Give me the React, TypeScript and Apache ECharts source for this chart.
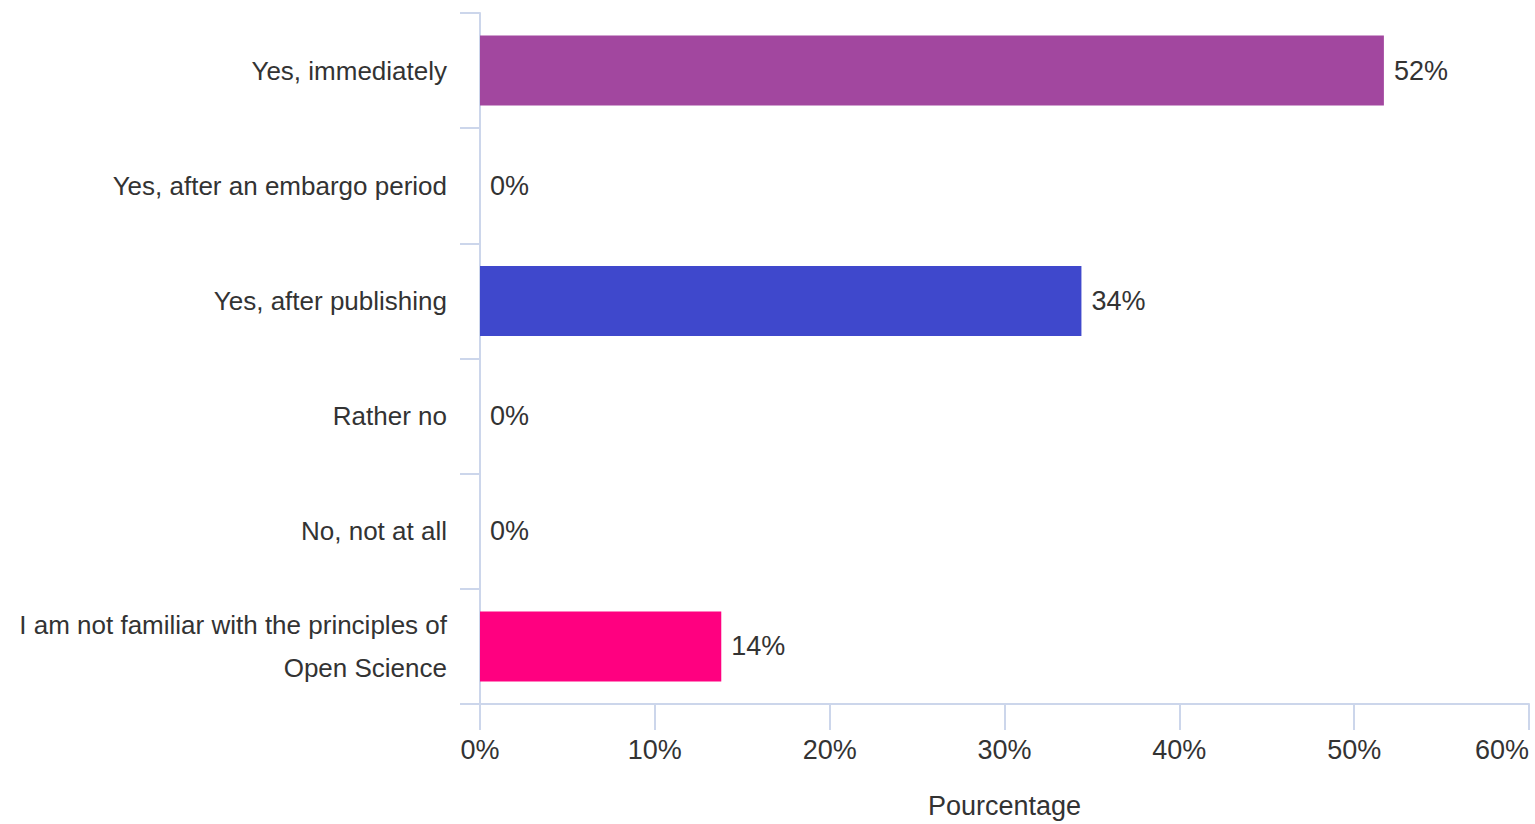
import React, { useEffect, useRef } from "react";
import * as echarts from "echarts";

const categories = [
  "Yes, immediately",
  "Yes, after an embargo period",
  "Yes, after publishing",
  "Rather no",
  "No, not at all",
  "I am not familiar with the principles of\nOpen Science",
];
const values = [51.7, 0, 34.4, 0, 0, 13.8];
const barColors = ["#A2479F", "#A2479F", "#3F48CC", "#A2479F", "#A2479F", "#FF0080"];
const xTicks = [0, 10, 20, 30, 40, 50, 60];

const FONT = "'Liberation Sans Narrow', 'Arial Narrow', 'Liberation Sans', Arial, sans-serif";

export default function App() {
  const ref = useRef<HTMLDivElement>(null);
  useEffect(() => {
    if (!ref.current) return;
    const chart = echarts.init(ref.current, undefined, { renderer: "svg" });
    chart.setOption({
      animation: false,
      grid: { left: 480, right: 6, top: 13, bottom: 120, containLabel: false, outerBoundsMode: "none" },
      xAxis: {
        type: "value",
        min: xTicks[0],
        max: xTicks[xTicks.length - 1],
        interval: 10,
        name: "Pourcentage",
        nameLocation: "middle",
        nameGap: 88,
        nameTextStyle: { fontFamily: FONT, fontSize: 27, color: "#333" },
        axisLine: { show: true, lineStyle: { color: "#ccd6eb", width: 2 } },
        axisTick: { show: true, length: 26, lineStyle: { color: "#ccd6eb", width: 2 } },
        axisLabel: {
          fontFamily: FONT,
          fontSize: 27,
          color: "#333",
          margin: 32,
          alignMaxLabel: "right",
          formatter: (v: number) => v + "%",
        },
        splitLine: { show: false },
      },
      yAxis: {
        type: "category",
        data: categories,
        inverse: true,
        axisLine: { show: true, lineStyle: { color: "#ccd6eb", width: 2 } },
        axisTick: { show: true, length: 20, lineStyle: { color: "#ccd6eb", width: 2 } },
        axisLabel: {
          fontFamily: FONT,
          fontSize: 26,
          color: "#333",
          margin: 33,
          lineHeight: 43,
        },
      },
      series: [
        {
          type: "bar",
          barWidth: 70,
          data: values.map((v, i) => ({ value: v, itemStyle: { color: barColors[i] } })),
          label: {
            show: true,
            position: "right",
            distance: 10,
            fontFamily: FONT,
            fontSize: 27,
            color: "#333",
            formatter: (p: any) => Math.round(p.value) + "%",
          },
        },
      ],
    });
    return () => chart.dispose();
  }, []);
  return <div ref={ref} style={{ width: 1535, height: 824, position: "absolute", left: 0, top: 0 }} />;
}
